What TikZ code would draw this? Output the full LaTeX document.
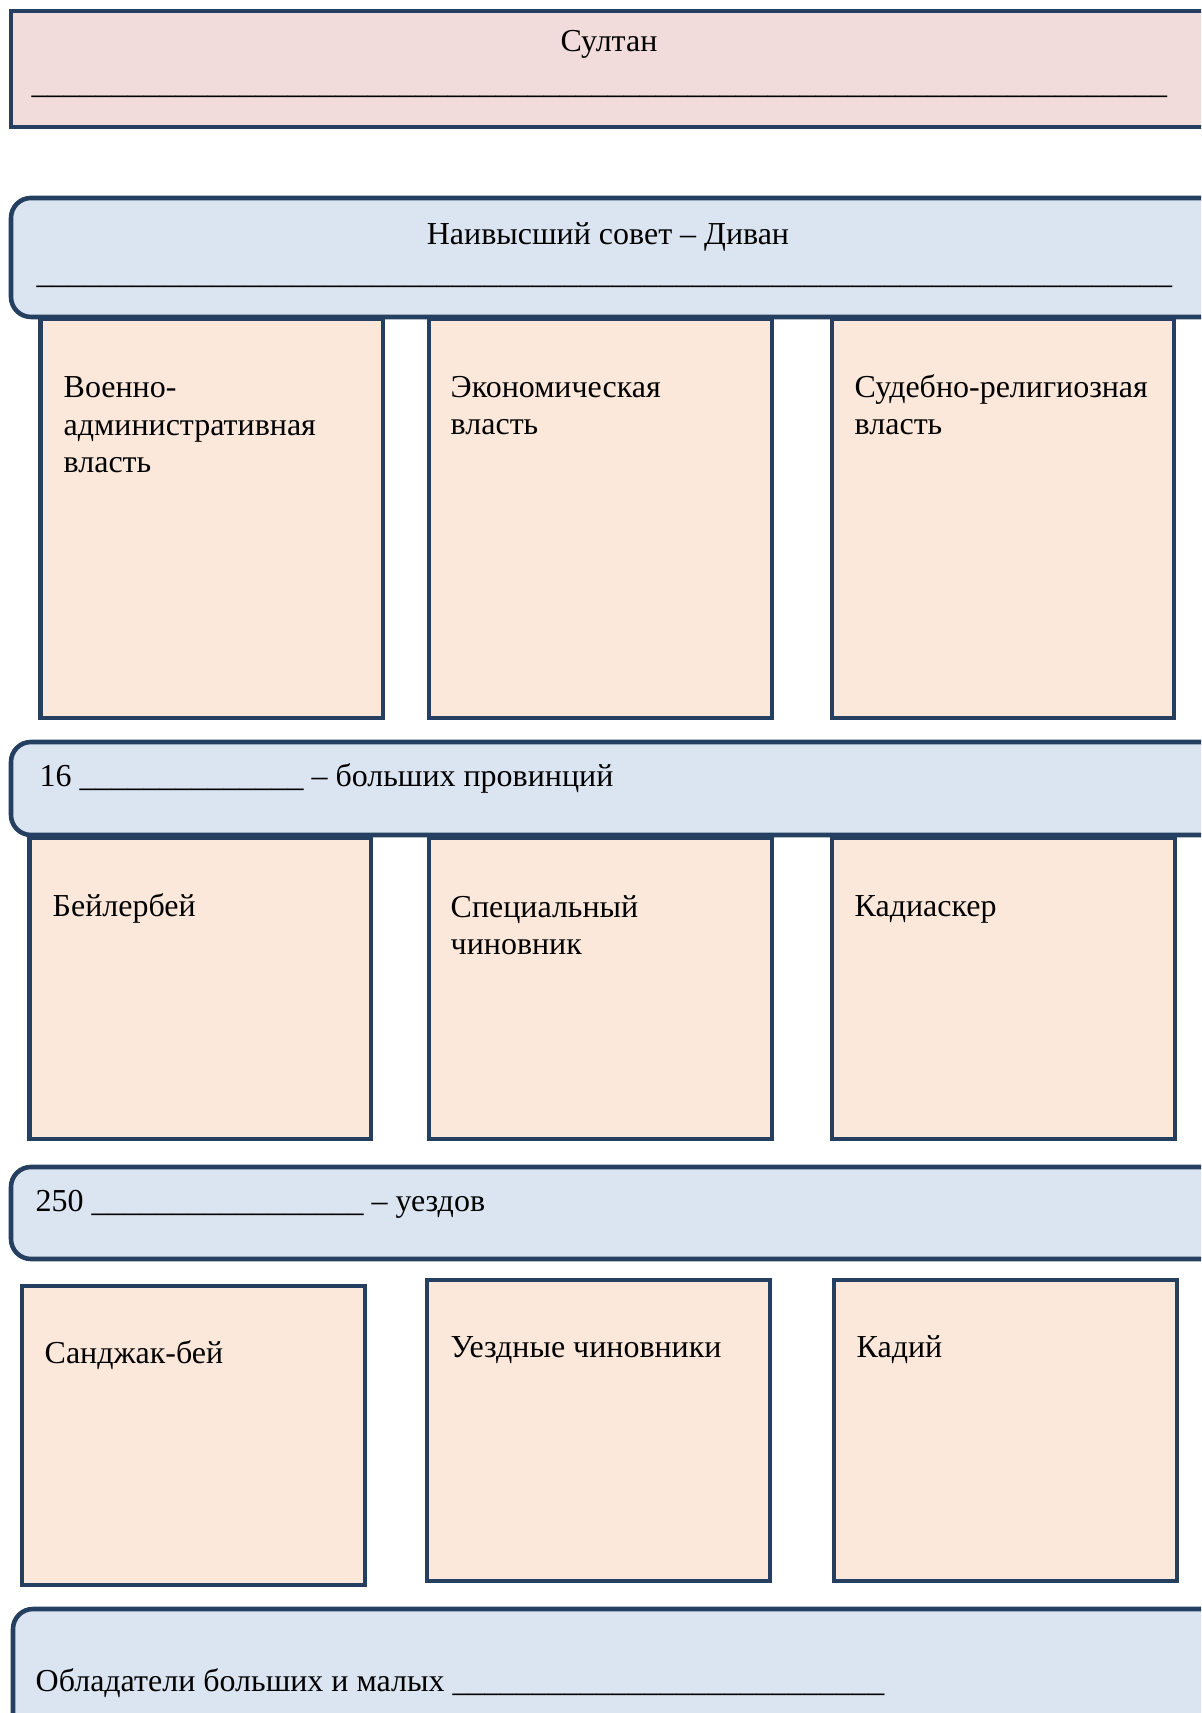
\documentclass[tikz,border=0pt]{standalone}
\usepackage{fontspec}
\setmainfont{Liberation Serif}
\definecolor{navy}{HTML}{243F60}
\definecolor{rose}{HTML}{F2DCDB}
\definecolor{paleblue}{HTML}{DBE5F1}
\definecolor{peach}{HTML}{FCE8DA}
\newcommand{\blank}[1]{\foreach \k in {1,...,#1}{\_}}
\newcommand{\cell}[4]{%
  \draw[navy, fill=peach, line width=1.3pt] (#1,#2) rectangle (#3,#4);
}
\newcommand{\band}[3]{%
  \draw[navy, fill=paleblue, line width=1.3pt, rounded corners=0.2cm] (#1,#2) rectangle (12.4,#3);
}

\begin{document}
\begin{tikzpicture}[
  lbl/.style={anchor=base west, align=left, inner sep=0pt, font=\fontsize{9.1}{10.8}\selectfont},
  title/.style={anchor=base, inner sep=0pt, font=\fontsize{9.1}{10.8}\selectfont}]
  \useasboundingbox (0,0) rectangle (12.01,17.13);
  \clip (0,0) rectangle (12.01,17.13);

  % sultan
  \draw[navy, fill=rose, line width=1.3pt] (0.11,15.86) rectangle (12.4,17.02);
  \node[title] (sultan) at (6.09,16.61) {Султан};
  \node[lbl] (sultanline) at (0.31,16.19) {\blank{71}};

  % divan
  \band{0.11}{13.96}{15.15}
  \node[title] (divan) at (6.08,14.68) {Наивысший совет – Диван};
  \node[lbl] (divanline) at (0.36,14.29) {\blank{71}};

  % three branches of power (base = last line)
  \cell{0.405}{9.95}{3.83}{13.94}
  \cell{4.29}{9.95}{7.72}{13.94}
  \cell{8.32}{9.95}{11.74}{13.94}
  \node[lbl] (military) at (0.63,12.40) {Военно-\\административная\\власть};
  \node[lbl] (economy) at (4.50,12.78) {Экономическая\\власть};
  \node[lbl] (judicial) at (8.54,12.78) {Судебно-религиозная\\власть};

  % provinces
  \band{0.11}{8.78}{9.71}
  \node[lbl] (provinces) at (0.39,9.26) {16 \blank{14} – больших провинций};
  \cell{0.295}{5.74}{3.71}{8.75}
  \cell{4.29}{5.74}{7.72}{8.75}
  \cell{8.32}{5.74}{11.75}{8.75}
  \node[lbl] (beylerbey) at (0.52,7.96) {Бейлербей};
  \node[lbl] (official) at (4.50,7.58) {Специальный\\чиновник};
  \node[lbl] (kadiasker) at (8.54,7.96) {Кадиаскер};

  % districts
  \band{0.11}{4.54}{5.46}
  \node[lbl] (districts) at (0.35,5.01) {250 \blank{17} – уездов};
  \cell{0.22}{1.28}{3.65}{4.27}
  \cell{4.27}{1.32}{7.70}{4.33}
  \cell{8.34}{1.32}{11.77}{4.33}
  \node[lbl] (sanjak) at (0.44,3.49) {Санджак-бей};
  \node[lbl] (countyofficials) at (4.50,3.55) {Уездные чиновники};
  \node[lbl] (kadi) at (8.56,3.55) {Кадий};

  % land holders
  \band{0.13}{-0.5}{1.04}
  \node[lbl] (holders) at (0.35,0.21) {Обладатели больших и малых \blank{27}};
\end{tikzpicture}
\end{document}
